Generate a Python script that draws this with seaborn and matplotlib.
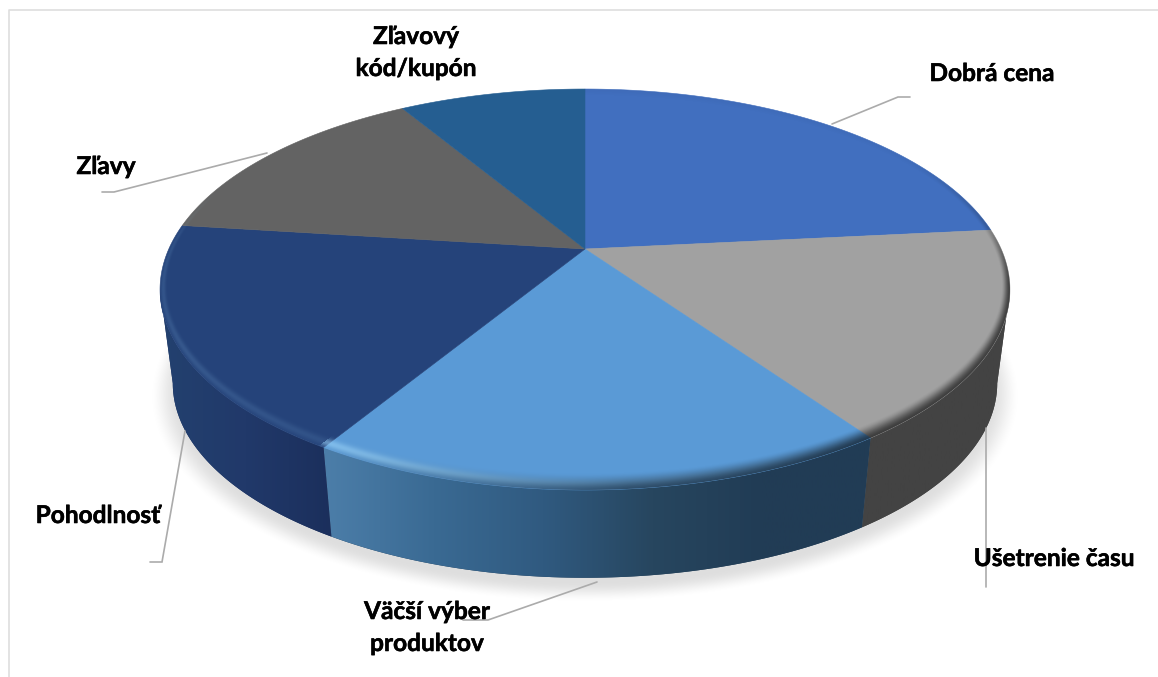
import matplotlib
matplotlib.use("Agg")
import matplotlib.pyplot as plt
from matplotlib.patches import Polygon
import matplotlib.patheffects as pe
import seaborn as sns
import numpy as np

# Data (share of the pie, clockwise from 12 o'clock)
categories = ["Dobrá cena", "Ušetrenie času", "Väčší výber\nproduktov", "Pohodlnosť", "Zľavy", "Zľavový\nkód/kupón"]
shares = [23.4, 16.9, 18.4, 18.3, 14.4, 8.6]
top_colors = ["#416FBF", "#A1A1A1", "#5A9AD6", "#25437A", "#636363", "#255E91"]

# Pixel layout of the labels (centre x, first baseline y) and leader lines
label_xy = [(992, 81), (1054, 566), (427, 619), (98, 523), (106, 174), (416, 44)]
leaders = [
    [(832, 124), (898, 97), (910, 97)],
    [(985.5, 428), (985.5, 587)],
    [(597, 582), (488, 620), (463, 620)],
    [(185, 431), (162, 562), (150, 562)],
    [(267, 153), (114, 192), (102, 192)],
]

W, H = 1158, 677
CX = 585
K = 0.202                  # perspective strength
TOP = dict(a=416.2, b=192.3, y0=249.0)
BOT = dict(a=0.97 * 416.2, b=0.97 * 192.3, y0=344.0)


def project(theta, disc, r=1.0):
    # theta in degrees, clockwise from the top of the pie
    t = np.radians(theta)
    u, v = r * np.sin(t), r * np.cos(t)
    w = 1 + K * v
    return np.column_stack([CX + disc["a"] * u / w, disc["y0"] - disc["b"] * v / w])


def unproject(X, Y, disc):
    dx, dy = X - CX, disc["y0"] - Y
    v = dy / (disc["b"] - K * dy)
    u = dx * (1 + K * v) / disc["a"]
    return u, v


def smooth(e0, e1, x):
    s = np.clip((x - e0) / (e1 - e0), 0, 1)
    return s * s * (3 - 2 * s)


sns.set_theme(style="white")
plt.rcParams["font.family"] = ["Lato", "DejaVu Sans"]

fig = plt.figure(figsize=(W / 100, H / 100), dpi=100)
ax = fig.add_axes([0, 0, 1, 1])

edges = np.concatenate([[0], np.cumsum(shares)]) / sum(shares) * 360
palette = sns.color_palette(top_colors)
X, Y = np.meshgrid(np.arange(W) + 0.5, np.arange(H) + 0.5)

# soft shadow under the pie
su, sv = unproject(X, Y - 9, BOT)
sr = np.hypot(su, sv)
shadow = np.zeros((H, W, 4))
shadow[..., 3] = 0.13 * (1 - smooth(0.985, 1.055, sr))
ax.imshow(shadow, extent=(0, W, H, 0), zorder=1, interpolation="bilinear")

# side wall, only the part between the two silhouette points is visible
front_start = np.degrees(np.arctan2(np.sqrt(1 - K * K), -K))
front_end = 360 - front_start
side_ramps = {
    1: ["#434343", "#434343"],
    2: ["#4C7EA9", "#3A6A93", "#305A80", "#27465F", "#213C55", "#213C55"],
    3: ["#23416F", "#21396A", "#1B2F5C"],
}
for i, ramp in side_ramps.items():
    t0 = max(edges[i], front_start)
    t1 = min(edges[i + 1], front_end)
    th = np.linspace(t0, t1, 80)
    outline = np.vstack([project(th, TOP), project(th[::-1], BOT)])
    wall = Polygon(outline, closed=True, facecolor=ramp[-1], edgecolor="none", zorder=2)
    ax.add_patch(wall)
    cmap = sns.blend_palette(ramp, n_colors=256, as_cmap=True)
    grad = np.linspace(0, 1, 256)[None, :]
    xs = outline[:, 0]
    img = ax.imshow(grad, cmap=cmap, extent=(xs.min(), xs.max(), H, 0), aspect="auto", zorder=2.1)
    img.set_clip_path(wall)

# top surface, one wedge per category
for i, color in enumerate(palette):
    th = np.linspace(edges[i], edges[i + 1], 160)
    pts = np.vstack([[CX, TOP["y0"]], project(th, TOP)])
    ax.add_patch(Polygon(pts, closed=True, facecolor=color, edgecolor=color, lw=0.4, zorder=3))

# rounded rim: darkens towards the right, catches the light on the left
u, v = unproject(X, Y, TOP)
r = np.hypot(u, v)
ang = np.degrees(np.arctan2(u, v)) % 360
band = 0.018 + 0.04 * np.cos(np.radians(ang)) ** 2
depth = (1 - r) / band     # 0 at the rim, 1 at the inner end of the bevel
dark = np.interp(ang, [60, 84, 100, 145, 175, 212, 250, 300], [0.03, 0.2, 0.6, 0.62, 0.5, 0.0, 0.0, 0.0])
light = np.interp(ang, [145, 175, 205, 212, 212.01, 240, 270, 290], [0.0, 0.15, 0.55, 0.55, 0.1, 0.14, 0.1, 0.0])
dark_a = dark * (1 - smooth(0.0, 1.0, depth))
light_a = light * np.exp(-(((depth - 0.38) / 0.28) ** 2))
rim = np.zeros((H, W, 4))
share_light = (light_a / np.maximum(light_a + dark_a, 1e-6))[..., None]
rim[..., :3] = share_light * np.array([0.62, 0.85, 1.0])
rim[..., 3] = np.clip(light_a + dark_a, 0, 1)
disc_patch = Polygon(project(np.linspace(0, 360, 500), TOP), closed=True, transform=ax.transData, facecolor="none", edgecolor="none")
ax.add_patch(disc_patch)
rim_img = ax.imshow(rim, extent=(0, W, H, 0), zorder=4, interpolation="bilinear")
rim_img.set_clip_path(disc_patch)

# leader lines and labels
for line in leaders:
    xs, ys = zip(*line)
    ax.plot(xs, ys, color="#ABABAB", lw=1.2, zorder=5, solid_joinstyle="miter")
for name, (x, y) in zip(categories, label_xy):
    for k, part in enumerate(name.split("\n")):
        ax.text(x, y + 32 * k, part, ha="center", va="baseline", fontsize=17.6, fontweight="bold",
                color="black", zorder=6,
                path_effects=[pe.withStroke(linewidth=0.4, foreground="black")])

# chart frame, only top and left fall inside the crop
ax.plot([9, 9, W], [H, 9.5, 9.5], color="#DEDEDE", lw=1.2, zorder=0)

ax.set_xlim(0, W)
ax.set_ylim(H, 0)
ax.axis("off")
fig.savefig("out.png", dpi=100, facecolor="white")
